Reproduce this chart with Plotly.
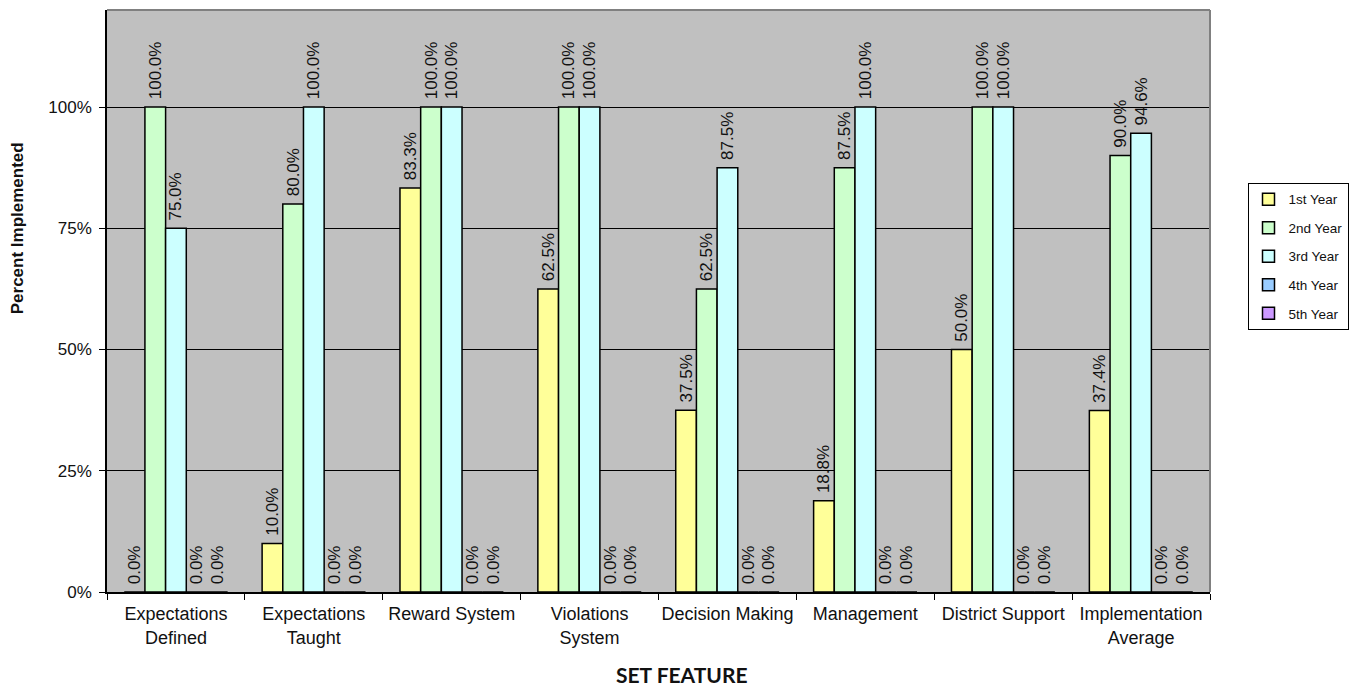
import plotly.graph_objects as go

categories = ["Expectations<br>Defined", "Expectations<br>Taught", "Reward System",
              "Violations<br>System", "Decision Making", "Management",
              "District Support", "Implementation<br>Average"]
series_names = ["1st Year", "2nd Year", "3rd Year", "4th Year", "5th Year"]
year1 = [0.0, 10.0, 83.3, 62.5, 37.5, 18.8, 50.0, 37.4]
year2 = [100.0, 80.0, 100.0, 100.0, 62.5, 87.5, 100.0, 90.0]
year3 = [75.0, 100.0, 100.0, 100.0, 87.5, 100.0, 100.0, 94.6]
year4 = [0.0, 0.0, 0.0, 0.0, 0.0, 0.0, 0.0, 0.0]
year5 = [0.0, 0.0, 0.0, 0.0, 0.0, 0.0, 0.0, 0.0]
colors = ["#FFFF99", "#CCFFCC", "#CCFFFF", "#99CCFF", "#CC99FF"]

fig = go.Figure()
for i, (name, vals) in enumerate(zip(series_names, [year1, year2, year3, year4, year5])):
    fig.add_trace(go.Bar(
        x=categories, y=[v / 100 for v in vals], name=name,
        marker=dict(color=colors[i], line=dict(color="black", width=1.5)),
        text=[f"\u00a0{v:.1f}%" for v in vals], textposition="outside",
        textangle=-90, constraintext="none", cliponaxis=False,
        textfont=dict(family="Liberation Sans, Arial", size=17, color="#111111"),
        legendgroup=name,
    ))

fig.add_shape(type="line", xref="paper", yref="paper", x0=0, x1=1, y0=1, y1=1,
              line=dict(color="#808080", width=2))
fig.add_shape(type="line", xref="paper", yref="paper", x0=1, x1=1, y0=0, y1=1,
              line=dict(color="#808080", width=2))

fig.add_annotation(text="<b>Percent Implemented</b>", xref="paper", yref="paper",
                   x=-0.0816, y=0.625, xanchor="center", yanchor="middle",
                   textangle=-90, showarrow=False,
                   font=dict(family="Liberation Sans, Arial", size=17, color="#111111"))
fig.add_annotation(text="<b>SET FEATURE</b>", xref="paper", yref="paper",
                   x=0.521, y=-0.142, xanchor="center", yanchor="middle",
                   showarrow=False,
                   font=dict(family="Lato, Open Sans", size=21, color="#111111"))

fig.update_layout(
    width=1356, height=688,
    margin=dict(l=107, r=146, t=10, b=96, autoexpand=False),
    paper_bgcolor="white", plot_bgcolor="#C0C0C0",
    barmode="group", bargap=0.25, bargroupgap=0,
    font=dict(family="Liberation Sans, Arial", size=17, color="#111111"),
    showlegend=True,
    legend=dict(x=1.034, y=0.703, xanchor="left", yanchor="top",
                bgcolor="white", bordercolor="black", borderwidth=1,
                font=dict(size=13.5), tracegroupgap=8, itemwidth=30),
    xaxis=dict(showline=True, linecolor="black", linewidth=1.5, automargin=False,
               ticks="outside", tickson="boundaries", ticklen=6, tickcolor="black",
               tickfont=dict(size=18), tickangle=0, ticklabelstandoff=5),
    yaxis=dict(range=[0, 1.2], tickvals=[0, 0.25, 0.5, 0.75, 1.0],
               ticktext=["0%", "25%", "50%", "75%", "100%"], automargin=False,
               showline=True, linecolor="black", linewidth=1.5,
               ticks="outside", ticklen=6, tickcolor="black",
               showgrid=True, gridcolor="black", gridwidth=1, zeroline=False,
               tickfont=dict(size=17), ticklabelstandoff=4),
)

fig.write_html("out.html")
